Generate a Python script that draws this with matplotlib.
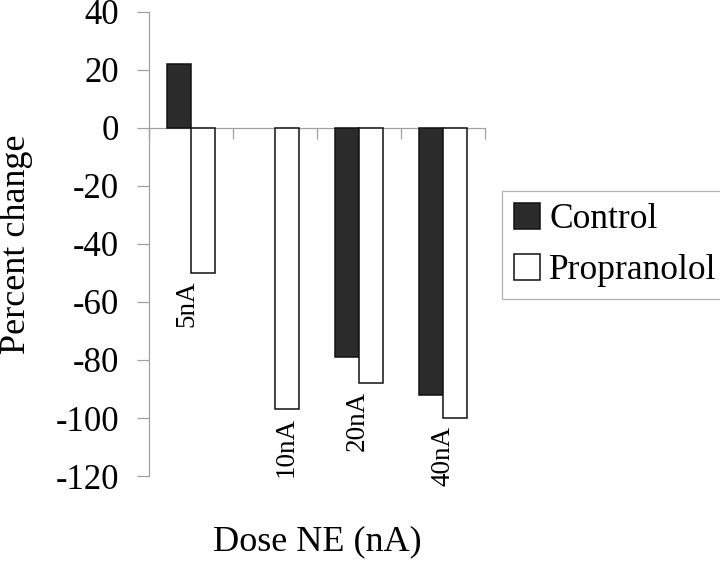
import matplotlib.pyplot as plt
import numpy as np


DOSES = ["5nA", "10nA", "20nA", "40nA"]
CONTROL = [22, 0, -79, -92]
PROPRANOLOL = [-50, -97, -88, -100]
SERIES_NAMES = ["Control", "Propranolol"]
Y_TICKS = [40, 20, 0, -20, -40, -60, -80, -100, -120]

# small manual nudges for the rotated dose labels (category units)
LABEL_NUDGE = [-0.05, 0.13, -0.02, 0.0]


def plot() -> None:
    plt.rcParams["font.family"] = ["Liberation Serif", "DejaVu Serif"]
    fig = plt.figure(figsize=(7.2, 5.61), dpi=100)
    ax = fig.add_axes([149 / 720, 1 - 476 / 561, 336 / 720, 464 / 561])

    x = np.arange(len(DOSES))
    width = 0.29
    # a zero-height bar shows nothing in the original, so drop its outline
    ctrl_edges = ["none" if v == 0 else "#111111" for v in CONTROL]
    ax.bar(x - width / 2, CONTROL, width, color="#2b2b2b", edgecolor=ctrl_edges,
           linewidth=1.1, label=SERIES_NAMES[0], zorder=3)
    ax.bar(x + width / 2, PROPRANOLOL, width, color="white", edgecolor="#111111",
           linewidth=1.1, label=SERIES_NAMES[1], zorder=3)

    ax.set_xlim(-0.5, len(DOSES) - 0.5)
    ax.set_ylim(-120, 40)
    ax.set_yticks(Y_TICKS)
    ax.set_yticklabels([str(v) for v in Y_TICKS], fontsize=25)
    ax.set_xticks(np.arange(len(DOSES) + 1) - 0.5)
    ax.set_xticklabels([])

    gray = "#a0a0a0"
    for side in ["top", "right"]:
        ax.spines[side].set_visible(False)
    ax.spines["left"].set_color(gray)
    ax.spines["bottom"].set_color(gray)
    ax.spines["left"].set_linewidth(0.9)
    ax.spines["bottom"].set_linewidth(0.9)
    ax.spines["bottom"].set_position(("data", 0))
    ax.tick_params(axis="y", direction="out", length=8.5, width=0.9, color=gray, pad=13)
    ax.tick_params(axis="x", direction="out", length=8, width=0.9, color=gray)

    for i, dose in enumerate(DOSES):
        low = min(CONTROL[i], PROPRANOLOL[i])
        ax.text(i + LABEL_NUDGE[i], low - 2.7, dose, rotation=90, ha="center",
                va="top", fontsize=19.5)

    fig.text(17 / 720, 1 - 244 / 561, "Percent change", rotation=90,
             ha="center", va="center", fontsize=26)
    fig.text(317 / 720, 1 - 542 / 561, "Dose NE (nA)", ha="center", va="center", fontsize=26)

    handles, labels = ax.get_legend_handles_labels()
    leg = fig.legend(handles, labels, loc="upper left",
                     bbox_to_anchor=(502 / 720, 1 - 191 / 561),
                     fontsize=25.5, frameon=True, fancybox=False, edgecolor=gray,
                     handlelength=0.75, handleheight=0.75, handletextpad=0.25,
                     labelspacing=0.5, borderpad=0.33, borderaxespad=0)
    leg.get_frame().set_linewidth(0.9)
    leg.legend_handles[0].set_edgecolor("#111111")

    fig.savefig("out.png", dpi=100)
    plt.close(fig)


def main() -> None:
    plot()


if __name__ == "__main__":
    main()
